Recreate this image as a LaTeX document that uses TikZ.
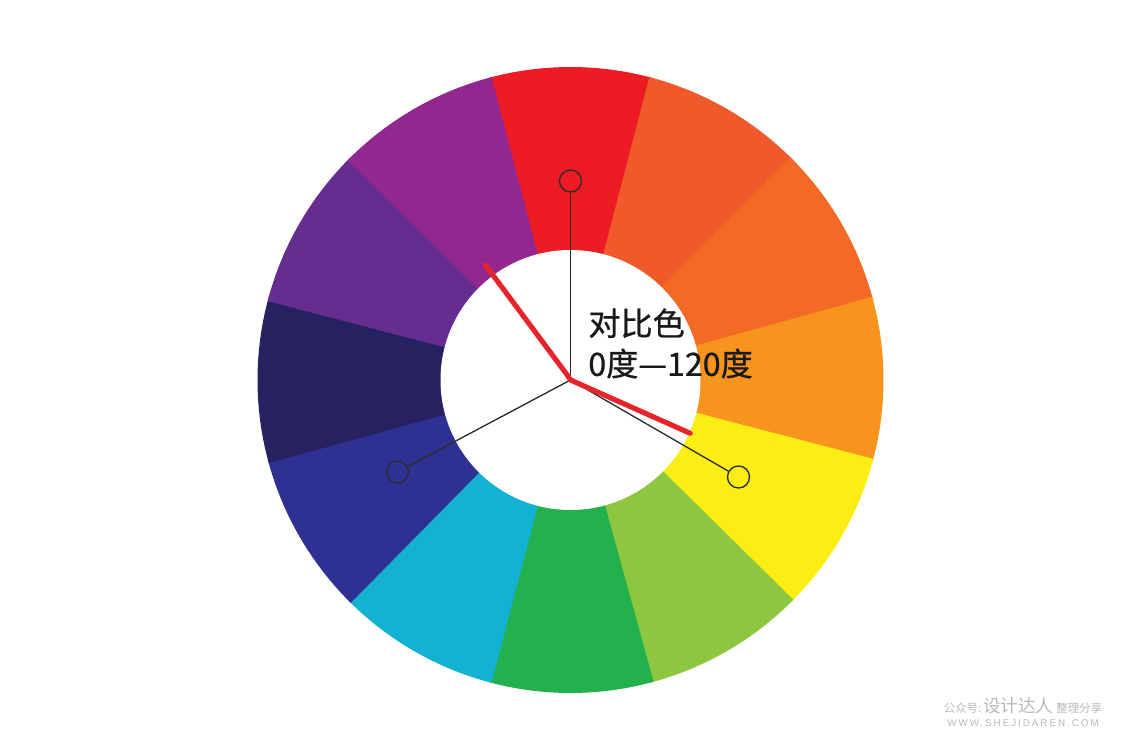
\documentclass[tikz,border=0pt]{standalone}
\usepackage{fontspec}
\newfontfamily\cjk{Noto Sans CJK SC}
\newfontfamily\cjkheavy[FakeBold=0.7]{Noto Sans CJK SC}
\newfontfamily\wmlatin[LetterSpace=20]{Liberation Sans}
\usepackage{tikz}
\usetikzlibrary{positioning}
\usepackage{xcolor}
\definecolor{wheelRed}{HTML}{ED1C24}
\definecolor{wheelRedOrange}{HTML}{F05A2B}
\definecolor{wheelOrange}{HTML}{F26A24}
\definecolor{wheelAmber}{HTML}{F7941D}
\definecolor{wheelYellow}{HTML}{FCEE15}
\definecolor{wheelLime}{HTML}{8DC63F}
\definecolor{wheelGreen}{HTML}{22B14C}
\definecolor{wheelCyan}{HTML}{14B2D2}
\definecolor{wheelBlue}{HTML}{2E3192}
\definecolor{wheelNavy}{HTML}{262262}
\definecolor{wheelViolet}{HTML}{662D91}
\definecolor{wheelPurple}{HTML}{92278F}
\definecolor{spokeGrey}{HTML}{2B2B2B}
\definecolor{markRed}{HTML}{E8232A}
\definecolor{wmGrey}{HTML}{B8B8B8}

\begin{document}
\begin{tikzpicture}[
  x=0.02cm,y=0.02cm,
  marker/.style={circle,draw=spokeGrey,line width=0.75pt,minimum size=0.44cm,inner sep=0pt},
  spoke/.style={spokeGrey,line width=0.75pt},
  redstroke/.style={markRed,line width=2.9pt,line cap=round,line join=round},
  label/.style={font=\cjkheavy\fontsize{18.3}{23}\selectfont,text=black!90,align=left,inner sep=0pt}]
  \useasboundingbox (-570.5,-369) rectangle (550.5,380);
  \coordinate (ctr) at (0,0);
  % colour wheel, twelve sectors of 30 degrees
  \foreach \ang/\col in {90/wheelRed,60/wheelRedOrange,30/wheelOrange,0/wheelAmber,
    -30/wheelYellow,-60/wheelLime,-90/wheelGreen,-120/wheelCyan,
    -150/wheelBlue,-180/wheelNavy,-210/wheelViolet,-240/wheelPurple}
    \fill[\col] (ctr) -- (\ang-15.4:313) arc (\ang-15.4:\ang+15.4:313) -- cycle;
  \fill[white] (ctr) circle (130);
  % markers for the three hues
  \node[marker] (mkRed) at (90:199) {};
  \node[marker] (mkBlue) at (208:196) {};
  \node[marker] (mkYellow) at (-30:194) {};
  \draw[spoke] (ctr) -- (mkRed);
  \draw[spoke] (ctr) -- (mkBlue);
  \draw[spoke] (ctr) -- (mkYellow);
  % hand drawn red angle
  \coordinate (redA) at (126.5:143);
  \coordinate (redB) at (-24:131);
  \draw[redstroke] (redA) -- (-4,6) -- (ctr) -- (redB);
  \node[label,anchor=north west] (txt) at (17.5,72) {对比色\\0度—120度};
  % watermark
  \node[font=\cjk,text=wmGrey,inner sep=0pt] (wmA) at (452.5,-326)
    {\fontsize{6.5}{7}\selectfont 公众号:\,\fontsize{10}{11}\selectfont 设计达人\,\fontsize{6.5}{7}\selectfont 整理分享};
  \node[font=\wmlatin\fontsize{5.6}{6}\selectfont,text=wmGrey,inner sep=0pt,below=3pt of wmA.south] (wmB) {WWW.SHEJIDAREN.COM};
\end{tikzpicture}
\end{document}
